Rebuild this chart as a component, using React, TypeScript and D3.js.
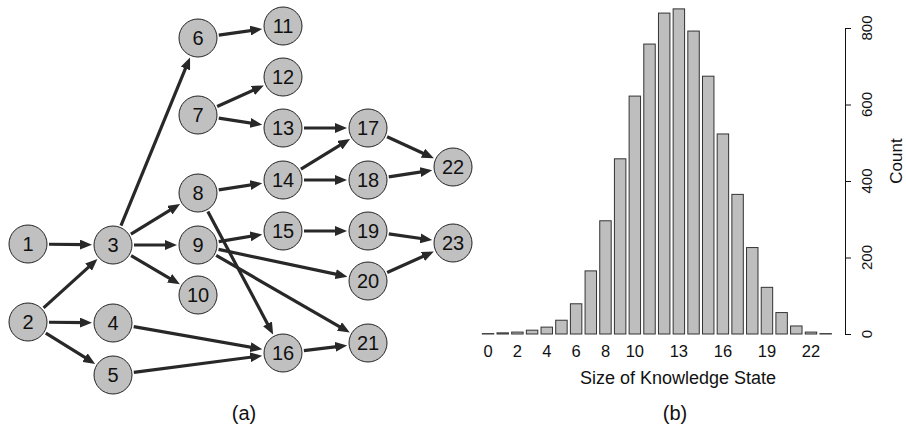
import { useEffect, useRef } from 'react';
import * as d3 from 'd3';

// (a) prerequisite graph
const nodeIds = [1, 2, 3, 4, 5, 6, 7, 8, 9, 10, 11, 12, 13, 14, 15, 16, 17, 18, 19, 20, 21, 22, 23];
// layer (column) and vertical slot of each node, in the same order as nodeIds
const nodeCol = [0, 0, 1, 1, 1, 2, 2, 2, 2, 2, 3, 3, 3, 3, 3, 3, 4, 4, 4, 4, 4, 5, 5];
const nodeRow = [244, 322, 245, 323, 375, 38, 115, 193, 245, 295, 26, 77, 128, 180, 231, 353, 128, 180, 231, 281, 343, 167, 243];
const edges: [number, number][] = [
  [1, 3], [2, 3], [2, 4], [2, 5],
  [3, 6], [3, 8], [3, 9], [3, 10],
  [6, 11], [7, 12], [7, 13],
  [8, 14], [8, 16], [9, 15], [9, 20], [9, 21],
  [4, 16], [5, 16],
  [13, 17], [14, 17], [14, 18], [15, 19], [16, 21],
  [17, 22], [18, 22], [19, 23], [20, 23],
];

// (b) histogram of knowledge state sizes
const sizes = d3.range(0, 24);
const counts = [1, 3, 5, 10, 18, 36, 79, 165, 296, 458, 622, 758, 839, 850, 792, 674, 523, 365, 226, 122, 56, 21, 5, 1];
const sizeLabels = [0, 2, 4, 6, 8, 10, 13, 16, 19, 22];
const countTicks = [0, 200, 400, 600, 800];

const W = 906;
const H = 432;
const R = 19;
const FONT = '"Liberation Sans", Arial, Helvetica, sans-serif';
const INK = '#111';
const EDGE = '#282828';

const colX = d3.scaleLinear().domain([0, 5]).range([28, 453]);

const x = d3.scaleBand<number>()
  .domain(sizes)
  .range([480.7, 833])
  .paddingInner(0.22)
  .paddingOuter(0.11);

const y = d3.scaleLinear().domain([0, 800]).range([334, 28]);

const App = () => {
  const yAxisRef = useRef<SVGGElement>(null);

  useEffect(() => {
    // axis line and ticks only; labels are drawn below
    const ya = d3.select(yAxisRef.current!);
    ya.call(d3.axisRight(y).tickValues(countTicks).tickSize(6).tickSizeOuter(0).tickFormat(() => ''));
    ya.select('.domain').attr('stroke', INK);
    ya.selectAll('.tick line').attr('stroke', INK);
  }, []);

  const pos = (id: number) => {
    const i = nodeIds.indexOf(id);
    return { cx: colX(nodeCol[i]), cy: nodeRow[i] };
  };

  const edgeLines = edges.map(([s, t]) => {
    const a = pos(s);
    const b = pos(t);
    const dx = b.cx - a.cx;
    const dy = b.cy - a.cy;
    const len = Math.hypot(dx, dy);
    const ux = dx / len;
    const uy = dy / len;
    const x2 = b.cx - ux * (R + 2);
    const y2 = b.cy - uy * (R + 2);
    return {
      key: `${s}-${t}`,
      x1: a.cx + ux * (R + 2),
      y1: a.cy + uy * (R + 2),
      x2,
      y2,
      // shaft stops inside the arrow head so the tip stays sharp
      sx: x2 - ux * 6,
      sy: y2 - uy * 6,
    };
  });

  return (
    <svg width={W} height={H} style={{ display: 'block', position: 'absolute', left: 0, top: 0, background: '#fff' }}>
      <style>{'body{margin:0}'}</style>
      <defs>
        <marker id="arrow" viewBox="0 0 12 10" refX="12" refY="5" markerWidth="12" markerHeight="10"
          markerUnits="userSpaceOnUse" orient="auto">
          <path d="M0,0 L12,5 L0,10 Z" fill={EDGE} />
        </marker>
      </defs>

      {/* (a) graph */}
      <g>
        {edgeLines.map((e) => (
          <line key={e.key} x1={e.x1} y1={e.y1} x2={e.sx} y2={e.sy} stroke={EDGE} strokeWidth={3.2} />
        ))}
        {edgeLines.map((e) => (
          <line key={'m' + e.key} x1={e.x1} y1={e.y1} x2={e.x2} y2={e.y2} stroke="none" markerEnd="url(#arrow)" />
        ))}
        {nodeIds.map((id) => {
          const p = pos(id);
          return (
            <g key={id} transform={`translate(${p.cx},${p.cy})`}>
              <circle r={R} fill="#c0c0c0" stroke="#222" strokeWidth={1} />
              <text textAnchor="middle" dy="0.36em" fontSize={20} fontFamily={FONT} fill={INK}>{id}</text>
            </g>
          );
        })}
        <text x={244} y={420} textAnchor="middle" fontSize={20} fontFamily={FONT} fill={INK}>(a)</text>
      </g>

      {/* (b) histogram */}
      <g>
        {sizes.map((s, i) => (
          <rect key={s} x={x(s)} y={y(counts[i])} width={x.bandwidth()} height={y(0) - y(counts[i])}
            fill="#bebebe" stroke="#333" strokeWidth={1} />
        ))}
        {sizeLabels.map((s) => (
          <text key={s} x={x(s)! + x.bandwidth() / 2} y={357} textAnchor="middle"
            fontSize={16.5} fontFamily={FONT} fill={INK}>{s}</text>
        ))}
        <g ref={yAxisRef} transform="translate(845,0)" />
        {countTicks.map((c) => (
          <text key={c} transform={`translate(871.5,${y(c)}) rotate(-90)`} textAnchor="middle"
            fontSize={15} fontFamily={FONT} fill={INK}>{c}</text>
        ))}
        <text x={678} y={384} textAnchor="middle" fontSize={18} fontFamily={FONT} fill={INK}>Size of Knowledge State</text>
        <text transform="translate(901.5,161) rotate(-90)" textAnchor="middle" fontSize={17} fontFamily={FONT} fill={INK}>Count</text>
        <text x={675} y={420} textAnchor="middle" fontSize={20} fontFamily={FONT} fill={INK}>(b)</text>
      </g>
    </svg>
  );
};

export default App;
